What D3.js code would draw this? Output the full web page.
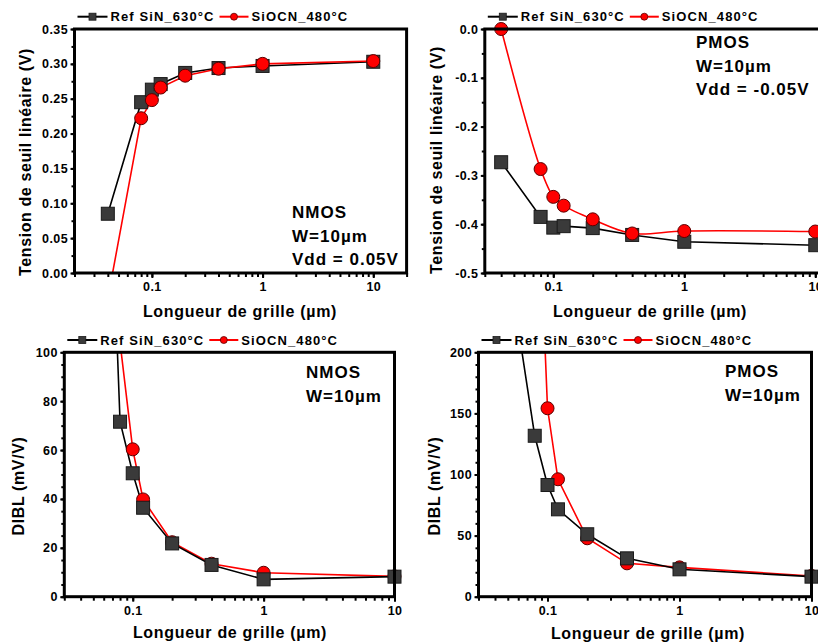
<!DOCTYPE html>
<html>
<head>
<meta charset="utf-8">
<script src="https://cdn.jsdelivr.net/npm/d3@7"></script>
<style>
  html, body { margin: 0; padding: 0; background: #fff; }
  svg { display: block; }
  text { font-family: "Liberation Sans", Arial, sans-serif; font-weight: bold; fill: #000; }
</style>
</head>
<body>
<svg id="chart" width="818" height="644"></svg>
<script>
// ---------------- DATA ----------------
const gateLengths = [0.04, 0.08, 0.1, 0.12, 0.2, 0.4, 1, 10];
const seriesNames = ["Ref SiN_630°C", "SiOCN_480°C"];

const vtNmosRef   = [0.085, 0.245, 0.263, 0.271, 0.287, 0.294, 0.297, 0.303];
const vtNmosSiocn = [-0.037, 0.222, 0.248, 0.266, 0.283, 0.293, 0.300, 0.304];

const vtPmosRef   = [-0.273, -0.385, -0.407, -0.404, -0.408, -0.422, -0.436, -0.443];
const vtPmosSiocn = [0.0, -0.287, -0.344, -0.362, -0.390, -0.419, -0.414, -0.415];

const diblNmosRef   = [500, 71.6, 50.5, 36.4, 21.8, 13.0, 7.1, 8.2];
const diblNmosSiocn = [null, 104, 60.3, 39.8, 22.3, 13.5, 9.8, 8.3];

const diblPmosRef   = [345, 131.7, 91.4, 71.5, 51.1, 31.4, 22.4, 16.4];
const diblPmosSiocn = [null, 410, 154.2, 96.1, 47.8, 27.3, 24.0, 17.0];

const xTickLabels = [0.1, 1, 10];
const yTicksVtNmos = [0, 0.05, 0.10, 0.15, 0.20, 0.25, 0.30, 0.35];
const yTicksVtPmos = [-0.5, -0.4, -0.3, -0.2, -0.1, 0.0];
const yTicksDiblNmos = [0, 20, 40, 60, 80, 100];
const yTicksDiblPmos = [0, 50, 100, 150, 200];

const yLabelVt = "Tension de seuil linéaire (V)";
const yLabelDibl = "DIBL (mV/V)";
const xLabel = "Longueur de grille (µm)";

const notesVtNmos = ["NMOS", "W=10µm", "Vdd = 0.05V"];
const notesVtPmos = ["PMOS", "W=10µm", "Vdd = -0.05V"];
const notesDiblNmos = ["NMOS", "W=10µm"];
const notesDiblPmos = ["PMOS", "W=10µm"];

// ---------------- LAYOUT ----------------
const panels = [
  { id: "p1", left: 74.5, right: 406.6, top: 29, bottom: 273, xDomain: [0.02, 20],
    yDomain: [0, 0.35], yTicks: yTicksVtNmos, yMinorStep: 0.025, yFmt: d => d.toFixed(2),
    ref: vtNmosRef, sio: vtNmosSiocn, redOnTop: true, redCurve: d3.curveLinear,
    yLabel: yLabelVt, yLabelPos: [25.5, 162], xLabelPos: [240, 317],
    notes: notesVtNmos, notePos: [292, 218] },
  { id: "p2", left: 484.8, right: 820.7, top: 29, bottom: 273, xDomain: [0.03, 11],
    yDomain: [-0.5, 0], yTicks: yTicksVtPmos, yMinorStep: 0.05, yFmt: d => d.toFixed(1),
    ref: vtPmosRef, sio: vtPmosSiocn, redOnTop: true, redCurve: d3.curveCatmullRom.alpha(0.5),
    yLabel: yLabelVt, yLabelPos: [436, 160], xLabelPos: [650, 317],
    notes: notesVtPmos, notePos: [696, 48] },
  { id: "p3", left: 64.3, right: 394.5, top: 352.3, bottom: 596.7, xDomain: [0.03, 10],
    yDomain: [0, 100], yTicks: yTicksDiblNmos, yMinorStep: 5, yFmt: d => String(d),
    ref: diblNmosRef, sio: diblNmosSiocn, redOnTop: false, redCurve: d3.curveLinear,
    yLabel: yLabelDibl, yLabelPos: [18.5, 486], xLabelPos: [230, 638],
    notes: notesDiblNmos, notePos: [306, 378] },
  { id: "p4", left: 478.5, right: 811.5, top: 352.3, bottom: 596.7, xDomain: [0.03, 10],
    yDomain: [0, 200], yTicks: yTicksDiblPmos, yMinorStep: 10, yFmt: d => String(d),
    ref: diblPmosRef, sio: diblPmosSiocn, redOnTop: false, redCurve: d3.curveLinear,
    yLabel: yLabelDibl, yLabelPos: [434, 486], xLabelPos: [648, 639],
    notes: notesDiblPmos, notePos: [725, 377] }
];

const RED = "#ff0000";
const GREY = "#3a3a3a";

const svg = d3.select("#chart");

function minorLogTicks(domain) {
  const out = [];
  for (let e = -3; e <= 2; e++) {
    for (let m = 1; m <= 9; m++) {
      const v = m * Math.pow(10, e);
      if (v >= domain[0] * 0.9999 && v <= domain[1] * 1.0001) out.push(v);
    }
  }
  return out;
}

function styleText(sel, size, spacing) {
  sel.attr("font-size", size)
    .style("font-family", "'Liberation Sans', Arial, sans-serif")
    .style("font-weight", "bold")
    .style("letter-spacing", spacing + "px");
  return sel;
}

panels.forEach(p => {
  const g = svg.append("g");
  const x = d3.scaleLog().domain(p.xDomain).range([p.left, p.right]);
  const y = d3.scaleLinear().domain(p.yDomain).range([p.bottom, p.top]);

  svg.append("clipPath").attr("id", "clip-" + p.id)
    .append("rect").attr("x", p.left).attr("y", p.top)
    .attr("width", p.right - p.left).attr("height", p.bottom - p.top);

  // minor x ticks
  const xMinor = g.append("g").attr("transform", `translate(0,${p.bottom})`)
    .call(d3.axisBottom(x).tickValues(minorLogTicks(p.xDomain)).tickSize(4).tickFormat(""));
  xMinor.select(".domain").remove();
  xMinor.selectAll("line").attr("stroke-width", 2);

  // major x ticks with labels
  const xMajor = g.append("g").attr("transform", `translate(0,${p.bottom})`)
    .call(d3.axisBottom(x).tickValues(xTickLabels).tickSize(5).tickPadding(4)
      .tickFormat(d => String(d)));
  xMajor.select(".domain").remove();
  xMajor.selectAll("line").attr("stroke-width", 2);
  styleText(xMajor.selectAll("text"), 12.5, 0.4);

  // minor y ticks
  const yMinorVals = d3.range(p.yDomain[0], p.yDomain[1] + p.yMinorStep / 2, p.yMinorStep);
  const yMinor = g.append("g").attr("transform", `translate(${p.left},0)`)
    .call(d3.axisLeft(y).tickValues(yMinorVals).tickSize(3).tickFormat(""));
  yMinor.select(".domain").remove();
  yMinor.selectAll("line").attr("stroke-width", 2);

  const yMajor = g.append("g").attr("transform", `translate(${p.left},0)`)
    .call(d3.axisLeft(y).tickValues(p.yTicks).tickSize(4).tickPadding(2.5).tickFormat(p.yFmt));
  yMajor.select(".domain").remove();
  yMajor.selectAll("line").attr("stroke-width", 2);
  styleText(yMajor.selectAll("text"), 12.5, 0.4);

  // series data
  const refPts = gateLengths.map((l, i) => ({ x: l, y: p.ref[i] })).filter(d => d.y !== null);
  const sioPts = gateLengths.map((l, i) => ({ x: l, y: p.sio[i] })).filter(d => d.y !== null);

  const lineRef = d3.line().x(d => x(d.x)).y(d => y(d.y));
  const lineSio = d3.line().x(d => x(d.x)).y(d => y(d.y)).curve(p.redCurve);

  const lines = g.append("g").attr("clip-path", `url(#clip-${p.id})`);
  const drawRefLine = () => lines.append("path").datum(refPts).attr("d", lineRef)
    .attr("fill", "none").attr("stroke", "#000").attr("stroke-width", 1.6);
  const drawSioLine = () => lines.append("path").datum(sioPts).attr("d", lineSio)
    .attr("fill", "none").attr("stroke", RED).attr("stroke-width", 1.6);
  if (p.redOnTop) { drawRefLine(); drawSioLine(); } else { drawSioLine(); drawRefLine(); }

  const inView = d => d.y >= p.yDomain[0] - 1e-9 && d.y <= p.yDomain[1] + 1e-9;
  const marks = g.append("g");
  const drawSquares = () => marks.append("g").selectAll("rect").data(refPts.filter(inView)).join("rect")
    .attr("x", d => x(d.x) - 6.5).attr("y", d => y(d.y) - 6.5)
    .attr("width", 13).attr("height", 13)
    .attr("fill", GREY).attr("stroke", "#1a1a1a").attr("stroke-width", 1);
  const drawCircles = () => marks.append("g").selectAll("circle").data(sioPts.filter(inView)).join("circle")
    .attr("cx", d => x(d.x)).attr("cy", d => y(d.y)).attr("r", 6.5)
    .attr("fill", RED).attr("stroke", "#5a0000").attr("stroke-width", 1);
  if (p.redOnTop) { drawSquares(); drawCircles(); } else { drawCircles(); drawSquares(); }

  // frame
  g.append("rect").attr("x", p.left).attr("y", p.top)
    .attr("width", p.right - p.left).attr("height", p.bottom - p.top)
    .attr("fill", "none").attr("stroke", "#000").attr("stroke-width", 3);

  // axis labels
  styleText(g.append("text").attr("transform", `translate(${p.yLabelPos[0]},${p.yLabelPos[1]}) rotate(-90)`)
    .attr("text-anchor", "middle").attr("dy", "0.35em"), 16, 0.6).text(p.yLabel);
  styleText(g.append("text").attr("x", p.xLabelPos[0]).attr("y", p.xLabelPos[1])
    .attr("text-anchor", "middle"), 16, 0.7).text(xLabel);

  // annotations
  p.notes.forEach((t, i) => {
    styleText(g.append("text").attr("x", p.notePos[0]).attr("y", p.notePos[1] + i * 23.5), 17, 1).text(t);
  });

  // legend
  const lx = p.left + 3, ly = p.top - 12.3;
  const lg = g.append("g");
  lg.append("line").attr("x1", lx).attr("x2", lx + 30).attr("y1", ly).attr("y2", ly)
    .attr("stroke", "#000").attr("stroke-width", 2);
  lg.append("rect").attr("x", lx + 15 - 3.5).attr("y", ly - 3.5).attr("width", 7).attr("height", 7)
    .attr("fill", GREY).attr("stroke", "#1a1a1a").attr("stroke-width", 0.8);
  styleText(lg.append("text").attr("x", lx + 33).attr("y", ly + 4.5), 13, 1.1).text(seriesNames[0]);
  lg.append("line").attr("x1", lx + 142).attr("x2", lx + 171).attr("y1", ly).attr("y2", ly)
    .attr("stroke", RED).attr("stroke-width", 2);
  lg.append("circle").attr("cx", lx + 156.5).attr("cy", ly).attr("r", 3.5)
    .attr("fill", RED).attr("stroke", "#5a0000").attr("stroke-width", 0.8);
  styleText(lg.append("text").attr("x", lx + 174).attr("y", ly + 4.5), 13, 1.1).text(seriesNames[1]);
});
</script>
</body>
</html>
